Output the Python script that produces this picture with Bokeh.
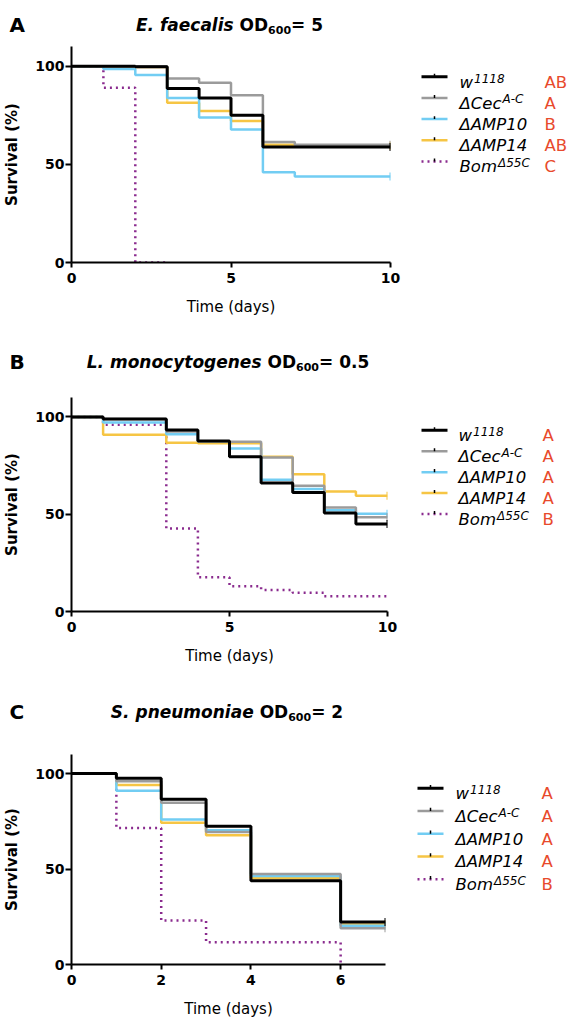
import numpy as np
from bokeh.plotting import figure
from bokeh.models import Range1d, FixedTicker
from bokeh.layouts import column, row
from bokeh.core.properties import value
from bokeh.embed import file_html
from bokeh.resources import INLINE

# ---------------- data ----------------
genotypes = ["w1118", "ΔCecA-C", "ΔAMP10", "ΔAMP14", "BomΔ55C"]
legend_main = ["w", "ΔCec", "ΔAMP10", "ΔAMP14", "Bom"]
legend_sup = ["1118", "A-C", "", "", "Δ55C"]
y_ticks = [0, 50, 100]

# Panel A: E. faecalis OD600 = 5
a_days = [0, 1, 2, 3, 4, 5, 6, 7, 8, 9, 10]
a_w1118 = [100, 100, 99.7, 88.6, 83.8, 75.0, 58.8, 58.8, 58.8, 58.8, 58.8]
a_cec = [100, 100, 100, 93.7, 91.5, 85.2, 61.4, 60.0, 60.0, 60.0, 60.0]
a_amp10 = [100, 98.6, 95.5, 83.8, 73.8, 67.7, 46.0, 43.8, 43.8, 43.8, 43.8]
a_amp14 = [100, 100, 99.5, 81.3, 77.2, 72.1, 60.0, 59.5, 59.5, 59.5, 59.5]
a_bom_days = [0, 1, 2, 3]
a_bom = [100, 89, 0, 0]
a_groups = ["AB", "A", "B", "AB", "C"]
a_xticks = [0, 5, 10]

# Panel B: L. monocytogenes OD600 = 0.5
b_days = [0, 1, 2, 3, 4, 5, 6, 7, 8, 9, 10]
b_w1118 = [100, 99, 99, 93.3, 87.7, 79.6, 66.0, 61.2, 50.6, 45.0, 45.0]
b_cec = [100, 99, 99, 92.5, 87.5, 87.2, 79.1, 64.6, 53.5, 48.5, 48.5]
b_amp10 = [100, 97.1, 97.1, 91.1, 87.5, 83.8, 67.7, 63.0, 52.0, 50.3, 50.3]
b_amp14 = [100, 90.8, 90.8, 86.8, 86.5, 86.5, 79.5, 70.6, 61.7, 59.5, 59.5]
b_bom_days = [0, 1, 2, 3, 4, 5, 6, 7, 8, 9, 10]
b_bom = [100, 96, 96, 42.7, 17.6, 13.0, 11.1, 9.6, 7.9, 7.9, 7.9]
b_groups = ["A", "A", "A", "A", "B"]
b_xticks = [0, 5, 10]

# Panel C: S. pneumoniae OD600 = 2
c_days = [0, 1, 2, 3, 4, 5, 6, 7]
c_w1118 = [100, 97.6, 86.5, 72.4, 43.9, 43.9, 22.3, 22.3]
c_cec = [100, 96.0, 84.7, 69.4, 47.4, 47.4, 19.0, 19.0]
c_amp10 = [100, 91.0, 75.9, 70.3, 46.4, 46.4, 20.3, 20.3]
c_amp14 = [100, 94.0, 74.3, 67.7, 45.2, 45.2, 21.0, 21.0]
c_bom_days = [0, 1, 2, 3, 4, 5, 6]
c_bom = [100, 71.5, 23.0, 11.6, 11.6, 11.6, 0]
c_groups = ["A", "A", "A", "A", "B"]
c_xticks = [0, 2, 4, 6]

# ---------------- styles ----------------
FONT = "DejaVu Sans"
COLORS = ["#000000", "#9b9b9b", "#72cdf3", "#f6c544", "#8a2b8e"]
WIDTHS = [3, 2.5, 2.5, 2.5, 2.5]
RED = "#e84a2c"
TOTAL_W = 570
LEFT = 68
RB = 12
LEG_SIZE = 16.5

BOLD_W = {' ': .348, '.': .381, '=': .838, 'E': .683, 'L': .637, 'S': .720,
          'O': .850, 'D': .830, 'a': .675, 'c': .593, 'e': .678, 'f': .435,
          'g': .716, 'i': .343, 'l': .343, 'm': 1.042, 'n': .712, 'o': .687,
          'p': .716, 'r': .493, 's': .595, 't': .478, 'u': .712, 'y': .652}
for d in "0123456789":
    BOLD_W[d] = .696
REG_W = {'w': .818, 'Δ': .684, 'C': .698, 'e': .615, 'c': .550, 'B': .686,
         'o': .612, 'm': .974, 'A': .684, 'M': .863, 'P': .603}
for d in "0123456789":
    REG_W[d] = .636


def tw(text, size, table):
    return sum(table.get(ch, .65) for ch in text) * size


def canvas(w, h):
    c = figure(width=w, height=h, output_backend="svg", toolbar_location=None,
               x_axis_type=None, y_axis_type=None,
               x_range=Range1d(0, w), y_range=Range1d(h, 0), min_border=0)
    c.outline_line_color = None
    c.background_fill_color = "white"
    return c


def txt(c, x, y, t, size, style="normal", color="#000000", align="left"):
    c.text(x=[x], y=[y], text=[t], text_font=value(FONT),
           text_font_size=value(f"{size}px"), text_font_style=style,
           text_color=color, text_align=align, text_baseline="alphabetic")


def panel(letter, species, od, days, curves, bom_days, bom, groups, xticks,
          title_h, frame_h, bottom, frame_w, title_base, row0, step,
          line_dx, text_dx, group_dx):
    # ---- title strip ----
    t = canvas(TOTAL_W, title_h)
    txt(t, 9, title_base, letter, 20, "bold")
    big, small = 17, 11
    # (text, style, size, baseline shift, space before)
    parts = [(species, "bold italic", big, 0, 0), ("OD", "bold", big, 0, 1),
             ("600", "bold", small, 4.5, 0), ("= " + od, "bold", big, 0, 0)]
    total = sum(tw(s_, sz, BOLD_W) + sp * BOLD_W[' '] * sz
                for s_, _, sz, _, sp in parts)
    x = LEFT + frame_w / 2 - total / 2
    for s_, st, sz, dy, sp in parts:
        x += sp * BOLD_W[' '] * sz
        txt(t, x, title_base + dy, s_, sz, st)
        x += tw(s_, sz, BOLD_W)

    # ---- plot ----
    pw = LEFT + frame_w + RB
    ph = frame_h + bottom
    p = figure(width=pw, height=ph, output_backend="svg",
               toolbar_location=None, x_range=Range1d(0, days[-1]),
               y_range=Range1d(0, 110), min_border_left=LEFT,
               min_border_right=RB, min_border_top=0, min_border_bottom=bottom)
    p.outline_line_color = None
    p.xgrid.grid_line_color = None
    p.ygrid.grid_line_color = None
    for ax in (p.xaxis, p.yaxis):
        ax.axis_line_width = 2
        ax.axis_line_color = "#000000"
        ax.major_tick_line_width = 2
        ax.major_tick_line_color = "#000000"
        ax.major_tick_in = 0
        ax.minor_tick_line_color = None
        ax.major_label_text_font = FONT
        ax.major_label_text_font_style = "bold"
        ax.major_label_text_font_size = "14px"
        ax.major_label_text_color = "#000000"
        ax.axis_label_text_font = FONT
        ax.axis_label_text_font_size = "15px"
        ax.axis_label_text_color = "#000000"
    p.xaxis.ticker = FixedTicker(ticks=xticks)
    p.yaxis.ticker = FixedTicker(ticks=y_ticks)
    p.xaxis.major_tick_out = 5
    p.yaxis.major_tick_out = 6
    p.xaxis.major_label_standoff = 5
    p.yaxis.major_label_standoff = 1
    p.xaxis.axis_label = "Time (days)"
    p.xaxis.axis_label_text_font_style = "normal"
    p.xaxis.axis_label_standoff = 12
    p.yaxis.axis_label = "Survival (%)"
    p.yaxis.axis_label_text_font_style = "bold"
    p.yaxis.axis_label_standoff = 11

    p.step(bom_days, bom, mode="after", line_color=COLORS[4],
           line_width=WIDTHS[4], line_dash="2 4")
    for i in (3, 2, 1, 0):
        vals = curves[i]
        p.step(days, vals, mode="after", line_color=COLORS[i],
               line_width=WIDTHS[i])
        p.scatter([days[-1]], [vals[-1]], marker="dash", angle=np.pi / 2,
                  size=8, line_color=COLORS[i], line_width=2)

    # ---- legend ----
    lw = TOTAL_W - pw
    lg = canvas(lw, ph)
    for k in range(5):
        ry = row0 + k * step
        x0 = line_dx - RB
        x1 = x0 + 26
        dash = "2 4" if k == 4 else "solid"
        lg.line([x0, x1], [ry, ry], line_color=COLORS[k], line_width=WIDTHS[k],
                line_dash=dash)
        lg.line([(x0 + x1) / 2, (x0 + x1) / 2], [ry, ry - 4],
                line_color="#000000", line_width=1.5)
        tx = text_dx - RB
        txt(lg, tx, ry + 7, legend_main[k], LEG_SIZE, "italic")
        if legend_sup[k]:
            sx = tx + tw(legend_main[k], LEG_SIZE, REG_W) + 1
            txt(lg, sx, ry + 2, legend_sup[k], 12, "italic")
        txt(lg, group_dx - RB, ry + 7, groups[k], LEG_SIZE, "normal", RED)
    return column(t, row(p, lg, spacing=0), spacing=0)


pa = panel("A", "E. faecalis", "5", a_days, [a_w1118, a_cec, a_amp10, a_amp14],
           a_bom_days, a_bom, a_groups, a_xticks,
           46, 216, 74, 322, 24.5, 40.7, 28.4, 31, 69, 154)
pb = panel("B", "L. monocytogenes", "0.5", b_days, [b_w1118, b_cec, b_amp10, b_amp14],
           b_bom_days, b_bom, b_groups, b_xticks,
           61, 214, 67, 319, 25.7, 43, 27.5, 34, 71, 155)
pc = panel("C", "S. pneumoniae", "2", c_days, [c_w1118, c_cec, c_amp10, c_amp14],
           c_bom_days, c_bom, c_groups, c_xticks,
           76, 211, 55, 317, 33.7, 42.7, 28.8, 32, 70, 156)

layout = column(pa, pb, pc, spacing=0)
open("out.html", "w").write(file_html(layout, INLINE))
